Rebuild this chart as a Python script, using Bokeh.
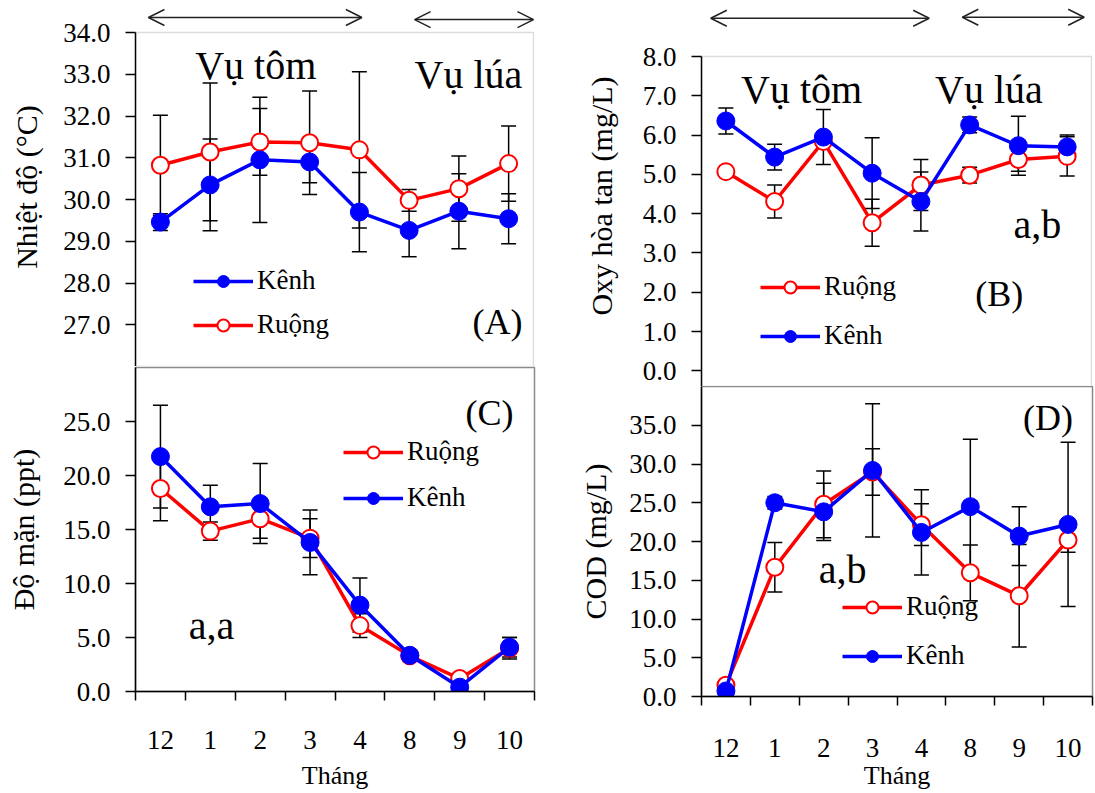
import numpy as np
from bokeh.plotting import figure
from bokeh.layouts import row, column
from bokeh.models import (Range1d, FixedTicker, NumeralTickFormatter, ColumnDataSource,
                          Whisker, TeeHead, Legend, LegendItem, Label, Arrow, OpenHead,
                          BoxAnnotation)
from bokeh.embed import file_html
from bokeh.resources import INLINE

# ---------------- data ----------------
months = ["12", "1", "2", "3", "4", "8", "9", "10"]

temp_ruong = [30.82, 31.14, 31.38, 31.36, 31.19, 29.98, 30.26, 30.86]
temp_ruong_sd = [1.20, 1.65, 0.80, 1.24, 1.87, 0.26, 0.78, 0.90]
temp_kenh = [29.46, 30.35, 30.95, 30.90, 29.70, 29.26, 29.72, 29.54]
temp_kenh_sd = [0.20, 1.10, 1.50, 0.50, 0.95, 0.63, 0.90, 0.60]

do_ruong = [5.07, 4.31, 5.84, 3.77, 4.73, 4.98, 5.38, 5.46]
do_ruong_sd = [0.10, 0.42, 0.10, 0.60, 0.65, 0.20, 0.30, 0.50]
do_kenh = [6.36, 5.44, 5.95, 5.03, 4.31, 6.26, 5.73, 5.70]
do_kenh_sd = [0.33, 0.33, 0.70, 0.90, 0.75, 0.20, 0.75, 0.30]

sal_ruong = [18.8, 14.85, 16.0, 14.2, 6.1, 3.3, 1.2, 4.0]
sal_ruong_sd = [3.0, 0.85, 1.8, 1.8, 1.1, 0.3, 0.3, 1.0]
sal_kenh = [21.75, 17.1, 17.4, 13.8, 8.0, 3.35, 0.4, 4.1]
sal_kenh_sd = [4.75, 2.0, 3.7, 3.0, 2.5, 0.5, 0.2, 0.9]

cod_ruong = [1.46, 16.67, 24.8, 28.96, 22.17, 15.96, 13.0, 20.2]
cod_ruong_sd = [0.3, 3.2, 4.3, 3.0, 2.7, 3.6, 6.6, 1.6]
cod_kenh = [0.71, 25.0, 23.83, 29.17, 21.17, 24.5, 20.7, 22.2]
cod_kenh_sd = [0.3, 0.8, 3.7, 8.6, 5.5, 8.7, 3.8, 10.6]

FONT = "'Liberation Serif', 'Times New Roman', serif"
RED = "#ff0000"
BLUE = "#0000ff"
FRAME = "#8a8a8a"

xc = np.arange(len(months)) + 0.5          # category centres
xb = list(np.arange(len(months) + 1))      # category boundaries


def make_panel(width, height, bl, br, bt, bb, yrange, ybounds, yticks, ylabel,
               ruong, ruong_sd, kenh, kenh_sd, show_x, legend_order,
               legend_loc, legend_spacing, ylabel_standoff=16,
               label_standoff_x=28, xlabel_standoff=4, xend=8):
    p = figure(width=width, height=height, min_border_left=bl, min_border_right=br,
               min_border_top=bt, min_border_bottom=bb,
               x_range=Range1d(0, xend), y_range=Range1d(*yrange),
               x_axis_location="below" if show_x else None,
               output_backend="svg", toolbar_location=None)
    p.xgrid.visible = False
    p.ygrid.visible = False
    p.background_fill_color = "white"
    p.border_fill_color = "white"
    if show_x:
        p.outline_line_color = FRAME
        p.outline_line_width = 1.5
    else:
        # frame only around the data area; the space above holds the season arrows
        p.outline_line_color = None
        p.add_layout(BoxAnnotation(top=ybounds[1], right=len(months), fill_color=None,
                                   line_color=FRAME, line_width=1.5, level="underlay"))

    ya = p.yaxis[0]
    ya.ticker = FixedTicker(ticks=yticks)
    ya.formatter = NumeralTickFormatter(format="0.0")
    ya.bounds = ybounds
    ya.major_label_text_font = FONT
    ya.major_label_text_font_size = "27px"
    ya.major_label_text_color = "black"
    ya.major_tick_out = 10
    ya.major_tick_in = 0
    ya.minor_tick_out = 0
    ya.minor_tick_in = 0
    ya.axis_line_width = 1.5
    ya.axis_line_color = "black"
    ya.major_tick_line_width = 1.5
    ya.major_label_standoff = 15
    ya.axis_label = ylabel
    ya.axis_label_text_font = FONT
    ya.axis_label_text_font_size = "30px"
    ya.axis_label_text_font_style = "normal"
    ya.axis_label_text_color = "black"
    ya.axis_label_standoff = ylabel_standoff

    if show_x:
        xa = p.xaxis[0]
        xa.ticker = FixedTicker(ticks=list(xc), minor_ticks=xb)
        xa.major_label_overrides = {float(c): m for c, m in zip(xc, months)}
        xa.major_label_text_font = FONT
        xa.major_label_text_font_size = "27px"
        xa.major_label_text_color = "black"
        xa.major_tick_out = 0
        xa.major_tick_in = 0
        xa.minor_tick_out = 9
        xa.minor_tick_in = 0
        xa.minor_tick_line_width = 1.5
        xa.minor_tick_line_color = "black"
        xa.axis_line_width = 1.5
        xa.axis_line_color = "black"
        xa.major_label_standoff = label_standoff_x
        xa.axis_label = "Tháng"
        xa.axis_label_text_font = FONT
        xa.axis_label_text_font_size = "26px"
        xa.axis_label_text_font_style = "normal"
        xa.axis_label_text_color = "black"
        xa.axis_label_standoff = xlabel_standoff

    r = np.array(ruong); rs = np.array(ruong_sd)
    k = np.array(kenh); ks = np.array(kenh_sd)
    src_r = ColumnDataSource(dict(x=xc, y=r, up=r + rs, lo=r - rs))
    src_k = ColumnDataSource(dict(x=xc, y=k, up=k + ks, lo=k - ks))
    for src in (src_r, src_k):
        w = Whisker(source=src, base="x", upper="up", lower="lo", dimension="height",
                    line_color="black", line_width=1.5,
                    upper_head=TeeHead(size=15, line_width=1.5, line_color="black"),
                    lower_head=TeeHead(size=15, line_width=1.5, line_color="black"))
        p.add_layout(w)

    lr = p.line("x", "y", source=src_r, line_color=RED, line_width=3.5)
    sr = p.scatter("x", "y", source=src_r, marker="circle", size=17,
                   fill_color="white", line_color=RED, line_width=2)
    lk = p.line("x", "y", source=src_k, line_color=BLUE, line_width=3.5)
    sk = p.scatter("x", "y", source=src_k, marker="circle", size=18,
                   fill_color=BLUE, line_color=BLUE, line_width=1)

    items = {"Ruộng": LegendItem(label="Ruộng", renderers=[lr, sr]),
             "Kênh": LegendItem(label="Kênh", renderers=[lk, sk])}
    leg = Legend(items=[items[n] for n in legend_order], location=legend_loc,
                 padding=0, margin=0, spacing=legend_spacing,
                 glyph_width=60, glyph_height=30, label_height=30,
                 label_standoff=4, label_text_font=FONT, label_text_font_size="27px",
                 label_text_color="black", border_line_alpha=0,
                 background_fill_alpha=0)
    p.add_layout(leg, "center")
    return p


def add_text(p, x, y, text, size, align="left"):
    p.add_layout(Label(x=x, y=y, text=text, text_font=FONT, text_font_size=size,
                       text_color="black", text_align=align,
                       text_baseline="alphabetic"))


def add_arrow(p, x0, x1, y):
    p.add_layout(Arrow(x_start=x0, y_start=y, x_end=x1, y_end=y,
                       line_width=1.5, line_color="#222222",
                       start=OpenHead(size=16, line_width=1.5, line_color="#222222"),
                       end=OpenHead(size=16, line_width=1.5, line_color="#222222")))


# Panel A : temperature
pA = make_panel(560, 366, 135, 26, 7, 0, (26, 34.6), (26, 34),
                [27, 28, 29, 30, 31, 32, 33, 34],
                "Nhiệt độ (°C)", temp_ruong, temp_ruong_sd, temp_kenh, temp_kenh_sd,
                False, ["Kênh", "Ruộng"], (58, 26), 13, ylabel_standoff=17, xend=8.02)
add_text(pA, 1.2, 33.22, "Vụ tôm", "40px")
add_text(pA, 5.61, 33.0, "Vụ  lúa", "40px")
add_text(pA, 7.78, 27.07, "(A)", "36px", "right")
add_arrow(pA, 0.26, 4.55, 34.36)
add_arrow(pA, 5.61, 8.0, 34.31)

# Panel B : dissolved oxygen
pB = make_panel(534, 386, 141, 2, 5, 0, (-0.4, 9.3), (-0.4, 8),
                [0, 1, 2, 3, 4, 5, 6, 7, 8],
                "Oxy hòa tan (mg/L)", do_ruong, do_ruong_sd, do_kenh, do_kenh_sd,
                False, ["Ruộng", "Kênh"], (59, 35), 18, ylabel_standoff=22, xend=8.02)
add_text(pB, 0.81, 7.15, "Vụ tôm", "40px")
add_text(pB, 4.79, 7.15, "Vụ  lúa", "40px")
add_text(pB, 6.4, 3.73, "a,b", "40px")
add_text(pB, 6.6, 1.95, "(B)", "36px", "right")
add_arrow(pB, 0.19, 4.67, 8.975)
add_arrow(pB, 5.35, 7.85, 9.0)

# Panel C : salinity
pC = make_panel(560, 426, 132, 25, 1, 101, (0, 30), (0, 30), [0, 5, 10, 15, 20, 25],
                "Độ mặn (ppt)", sal_ruong, sal_ruong_sd, sal_kenh, sal_kenh_sd,
                True, ["Ruộng", "Kênh"], (208, 178), 15, ylabel_standoff=20,
                label_standoff_x=30, xlabel_standoff=9)
add_text(pC, 7.58, 25.75, "(C)", "36px", "right")
add_text(pC, 1.07, 6.1, "a,a", "40px")

# Panel D : COD
pD = make_panel(534, 406, 141, 2, 0, 95, (0, 40), (0, 40),
                [0, 5, 10, 15, 20, 25, 30, 35],
                "COD (mg/L)", cod_ruong, cod_ruong_sd, cod_kenh, cod_kenh_sd,
                True, ["Ruộng", "Kênh"], (141, 25), 18, ylabel_standoff=14,
                label_standoff_x=33, xlabel_standoff=1)
add_text(pD, 7.6, 35.9, "(D)", "36px", "right")
add_text(pD, 2.4, 16.4, "a,b", "40px")

layout = row(column(pA, pC), column(pB, pD))

open("out.html", "w").write(file_html(layout, INLINE))
